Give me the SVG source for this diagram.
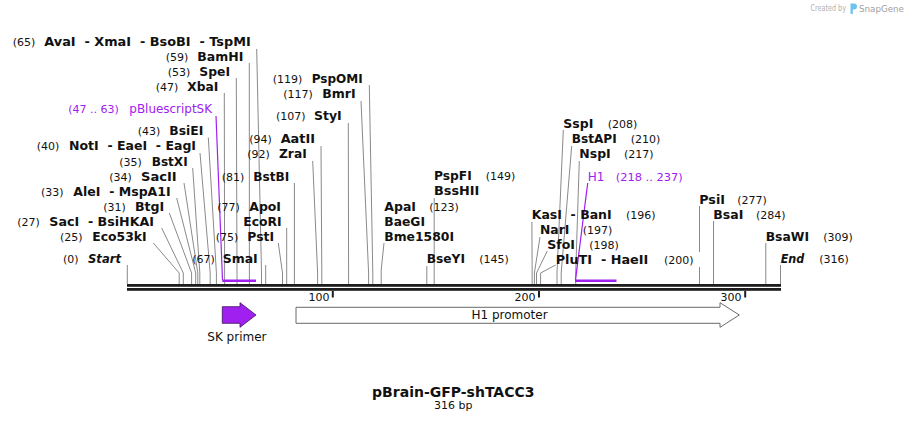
<svg xmlns="http://www.w3.org/2000/svg" width="908" height="423" viewBox="0 0 908 423">
<style>
text{font-family:"DejaVu Sans",Verdana,sans-serif;fill:#111}
.nm{font-size:12.4px;font-weight:bold}
.it{font-size:12.4px;font-weight:bold;font-style:italic}
.num{font-size:11px}
.pu{fill:#a020f0}
.sm{font-size:12px}
.ln{fill:none;stroke:#8a8a8a;stroke-width:1}
.pln{fill:none;stroke:#a020f0;stroke-width:1.2}
.bar{stroke:#a020f0;stroke-width:2.6}
.tk{font-size:11px}
</style>
<rect width="908" height="423" fill="#fff"/>

<g id="watermark">
<text x="810.5" y="11" style="font-size:8px;fill:#b0b0b0" textLength="35.5" lengthAdjust="spacingAndGlyphs">Created by</text>
<path d="M850.5 3.5 h3.5 a3 3 0 0 1 0 6 h-1.2 v4.5 h-2.3 z" fill="#6cc4ee"/>
<text x="859" y="12" style="font-size:9.5px;fill:#a0a0a0" textLength="45" lengthAdjust="spacingAndGlyphs">SnapGene</text>
</g>

<g id="connectors">
<polyline class="ln" points="256.7,49 261.5,273 261.5,284"/>
<polyline class="ln" points="249.3,63 249.4,284"/>
<polyline class="ln" points="236.3,78 237,273 237,284"/>
<polyline class="ln" points="224.3,93 224.6,273 224.6,284"/>
<polyline class="ln" points="208.3,137.5 216.4,273 216.4,284"/>
<polyline class="ln" points="200,153 210.2,273 210.2,284"/>
<polyline class="ln" points="192.7,168 199.8,273 199.8,284"/>
<polyline class="ln" points="184,183 197.8,273 197.8,284"/>
<polyline class="ln" points="176.7,198 195.7,273 195.7,284"/>
<polyline class="ln" points="169.3,213 191.6,273 191.6,284"/>
<polyline class="ln" points="161.7,228 183.3,273 183.3,284"/>
<polyline class="ln" points="153.3,243 179.2,273 179.2,284"/>
<polyline class="ln" points="127.3,265 127.3,284"/>
<polyline class="ln" points="294.4,183 294.4,284"/>
<polyline class="ln" points="286.7,228 286.7,284"/>
<polyline class="ln" points="278.3,243 282.5,273 282.5,284"/>
<polyline class="ln" points="265.7,265 265.7,284"/>
<polyline class="ln" points="321,146 321.8,273 321.8,284"/>
<polyline class="ln" points="312.7,161 317.6,273 317.6,284"/>
<polyline class="ln" points="348.3,123 348.6,284"/>
<polyline class="ln" points="361,101 368.6,273 368.6,284"/>
<polyline class="ln" points="369.3,85 372.8,273 372.8,284"/>
<polyline class="ln" points="384,243 381.2,270 381.2,284"/>
<polyline class="ln" points="434.2,198 434.2,284"/>
<polyline class="ln" points="426.8,266 426.8,284"/>
<polyline class="ln" points="563.3,130 557,273 557,284"/>
<polyline class="ln" points="571.7,146 561.2,273 561.2,284"/>
<polyline class="ln" points="579.3,161 575.7,273 575.7,284"/>
<polyline class="ln" points="531.9,222 532.2,284"/>
<polyline class="ln" points="540,237 534.4,273 534.4,284"/>
<polyline class="ln" points="547.3,251 536.5,273 536.5,284"/>
<polyline class="ln" points="555.7,265 540.6,273 540.6,284"/>
<polyline class="ln" points="699.5,206 699.5,284"/>
<polyline class="ln" points="713.5,221 713.5,284"/>
<polyline class="ln" points="765.8,243 765.8,284"/>
<polyline class="ln" points="780.5,265 780.5,284"/>
<polyline class="pln" points="216,116 222.5,280"/>
<polyline class="pln" points="587.7,183 575.5,280"/>
<line class="bar" x1="222.3" y1="280.7" x2="256" y2="280.7"/>
<line class="bar" x1="575" y1="280.7" x2="616.5" y2="280.7"/>
</g>

<g id="backbone">
<rect x="127" y="284" width="654" height="2.8" fill="#1e1e1e"/>
<rect x="127" y="288" width="654" height="2.8" fill="#1e1e1e"/>
<rect x="331.8" y="291" width="2" height="6.5" fill="#1e1e1e"/>
<rect x="538" y="291" width="2" height="6.5" fill="#1e1e1e"/>
<rect x="744.2" y="291" width="2" height="6.5" fill="#1e1e1e"/>
<text class="tk" x="329.5" y="301" text-anchor="end">100</text>
<text class="tk" x="535.5" y="301" text-anchor="end">200</text>
<text class="tk" x="741.5" y="301" text-anchor="end">300</text>
</g>

<g id="site-AvaI"><text class="num" x="12.7" y="46">(65)</text><text class="nm" x="44.3" y="46" textLength="206.4" lengthAdjust="spacingAndGlyphs" xml:space="preserve">AvaI  - XmaI  - BsoBI  - TspMI</text></g>
<g id="site-BamHI"><text class="num" x="165.7" y="60.7">(59)</text><text class="nm" x="197.3" y="60.7" textLength="46" lengthAdjust="spacingAndGlyphs">BamHI</text></g>
<g id="site-SpeI"><text class="num" x="167.7" y="75.7">(53)</text><text class="nm" x="199.3" y="75.7" textLength="30.7" lengthAdjust="spacingAndGlyphs">SpeI</text></g>
<g id="site-XbaI"><text class="num" x="155.7" y="90.7">(47)</text><text class="nm" x="187.3" y="90.7" textLength="31" lengthAdjust="spacingAndGlyphs">XbaI</text></g>
<g id="feat-pBluescriptSK"><text class="num pu" x="68.3" y="113.3">(47 .. 63)</text><text class="sm pu" x="129.3" y="113.3" textLength="82.7" lengthAdjust="spacingAndGlyphs">pBluescriptSK</text></g>
<g id="site-BsiEI"><text class="num" x="137.7" y="135">(43)</text><text class="nm" x="169.3" y="135" textLength="34" lengthAdjust="spacingAndGlyphs">BsiEI</text></g>
<g id="site-NotI"><text class="num" x="36.7" y="150">(40)</text><text class="nm" x="69" y="150" textLength="127" lengthAdjust="spacingAndGlyphs" xml:space="preserve">NotI  - EaeI  - EagI</text></g>
<g id="site-BstXI"><text class="num" x="119.3" y="165.7">(35)</text><text class="nm" x="151.7" y="165.7" textLength="36" lengthAdjust="spacingAndGlyphs">BstXI</text></g>
<g id="site-SacII"><text class="num" x="109.3" y="180.7">(34)</text><text class="nm" x="141" y="180.7" textLength="35.7" lengthAdjust="spacingAndGlyphs">SacII</text></g>
<g id="site-AleI"><text class="num" x="41" y="195.7">(33)</text><text class="nm" x="73.3" y="195.7" textLength="97.4" lengthAdjust="spacingAndGlyphs" xml:space="preserve">AleI  - MspA1I</text></g>
<g id="site-BtgI"><text class="num" x="103.3" y="210.7">(31)</text><text class="nm" x="135" y="210.7" textLength="29.3" lengthAdjust="spacingAndGlyphs">BtgI</text></g>
<g id="site-SacI"><text class="num" x="17.3" y="225.7">(27)</text><text class="nm" x="49.3" y="225.7" textLength="104.7" lengthAdjust="spacingAndGlyphs" xml:space="preserve">SacI  - BsiHKAI</text></g>
<g id="site-Eco53kI"><text class="num" x="60" y="240.7">(25)</text><text class="nm" x="92.3" y="240.7" textLength="54.4" lengthAdjust="spacingAndGlyphs">Eco53kI</text></g>
<g id="site-Start"><text class="num" x="63" y="263.3">(0)</text><text class="it" x="88" y="263.3" textLength="33" lengthAdjust="spacingAndGlyphs">Start</text></g>

<g id="site-BstBI"><text class="num" x="221.7" y="180.7">(81)</text><text class="nm" x="253.3" y="180.7" textLength="36" lengthAdjust="spacingAndGlyphs">BstBI</text></g>
<g id="site-ApoI"><text class="num" x="217.3" y="210.7">(77)</text><text class="nm" x="249.3" y="210.7" textLength="31.7" lengthAdjust="spacingAndGlyphs">ApoI</text></g>
<g id="site-EcoRI"><text class="nm" x="243.3" y="225.7" textLength="38.4" lengthAdjust="spacingAndGlyphs">EcoRI</text></g>
<g id="site-PstI"><text class="num" x="215.7" y="240.7">(75)</text><text class="nm" x="247.3" y="240.7" textLength="26.7" lengthAdjust="spacingAndGlyphs">PstI</text></g>
<g id="site-SmaI"><text class="num" x="192.3" y="263.3">(67)</text><text class="nm" x="222.7" y="263.3" textLength="35" lengthAdjust="spacingAndGlyphs">SmaI</text></g>
<g id="site-AatII"><text class="num" x="249.3" y="143.3">(94)</text><text class="nm" x="280.7" y="143.3" textLength="34.3" lengthAdjust="spacingAndGlyphs">AatII</text></g>
<g id="site-ZraI"><text class="num" x="247.3" y="158.3">(92)</text><text class="nm" x="279" y="158.3" textLength="27.7" lengthAdjust="spacingAndGlyphs">ZraI</text></g>
<g id="site-StyI"><text class="num" x="276" y="120">(107)</text><text class="nm" x="314" y="120" textLength="27.7" lengthAdjust="spacingAndGlyphs">StyI</text></g>
<g id="site-BmrI"><text class="num" x="283.3" y="98.3">(117)</text><text class="nm" x="322.3" y="98.3" textLength="33.4" lengthAdjust="spacingAndGlyphs">BmrI</text></g>
<g id="site-PspOMI"><text class="num" x="272.7" y="83.3">(119)</text><text class="nm" x="311.7" y="83.3" textLength="51" lengthAdjust="spacingAndGlyphs">PspOMI</text></g>

<g id="site-ApaI"><text class="nm" x="384.3" y="210.7" textLength="31.7" lengthAdjust="spacingAndGlyphs">ApaI</text><text class="num" x="429.3" y="210.7">(123)</text><text class="nm" x="384.3" y="225.7" textLength="40.7" lengthAdjust="spacingAndGlyphs">BaeGI</text><text class="nm" x="384.3" y="240.7" textLength="69.7" lengthAdjust="spacingAndGlyphs">Bme1580I</text></g>
<g id="site-PspFI"><text class="nm" x="434" y="180" textLength="37.7" lengthAdjust="spacingAndGlyphs">PspFI</text><text class="num" x="485.7" y="180">(149)</text><text class="nm" x="434" y="195" textLength="45.3" lengthAdjust="spacingAndGlyphs">BssHII</text></g>
<g id="site-BseYI"><text class="nm" x="426.7" y="263.3" textLength="38.3" lengthAdjust="spacingAndGlyphs">BseYI</text><text class="num" x="479.3" y="263.3">(145)</text></g>
<g id="site-SspI"><text class="nm" x="563.3" y="128.3" textLength="30" lengthAdjust="spacingAndGlyphs">SspI</text><text class="num" x="607.7" y="128.3">(208)</text></g>
<g id="site-BstAPI"><text class="nm" x="571.7" y="143.3" textLength="45" lengthAdjust="spacingAndGlyphs">BstAPI</text><text class="num" x="630.7" y="143.3">(210)</text></g>
<g id="site-NspI"><text class="nm" x="579.3" y="158.3" textLength="31.4" lengthAdjust="spacingAndGlyphs">NspI</text><text class="num" x="624" y="158.3">(217)</text></g>
<g id="feat-H1"><text class="sm pu" x="587.7" y="181">H1</text><text class="num pu" x="615.7" y="181" textLength="67" lengthAdjust="spacingAndGlyphs">(218 .. 237)</text></g>
<g id="site-KasI"><text class="nm" x="531.7" y="219" textLength="80" lengthAdjust="spacingAndGlyphs" xml:space="preserve">KasI  - BanI</text><text class="num" x="626" y="219">(196)</text></g>
<g id="site-NarI"><text class="nm" x="540" y="234" textLength="29.3" lengthAdjust="spacingAndGlyphs">NarI</text><text class="num" x="582.7" y="234">(197)</text></g>
<g id="site-SfoI"><text class="nm" x="547.3" y="249" textLength="27.7" lengthAdjust="spacingAndGlyphs">SfoI</text><text class="num" x="589.3" y="249">(198)</text></g>
<g id="site-PluTI"><rect x="660" y="252" width="43" height="15" fill="#fff"/><text class="nm" x="555.7" y="264" textLength="92.6" lengthAdjust="spacingAndGlyphs" xml:space="preserve">PluTI  - HaeII</text><text class="num" x="664" y="264">(200)</text></g>
<g id="site-PsiI"><text class="nm" x="699.3" y="204" textLength="25.7" lengthAdjust="spacingAndGlyphs">PsiI</text><text class="num" x="737.3" y="204">(277)</text></g>
<g id="site-BsaI"><text class="nm" x="713.3" y="219" textLength="30" lengthAdjust="spacingAndGlyphs">BsaI</text><text class="num" x="756" y="219">(284)</text></g>
<g id="site-BsaWI"><text class="nm" x="765.7" y="241" textLength="43.3" lengthAdjust="spacingAndGlyphs">BsaWI</text><text class="num" x="823.3" y="241">(309)</text></g>
<g id="site-End"><text class="it" x="780.7" y="263.3" textLength="23.6" lengthAdjust="spacingAndGlyphs">End</text><text class="num" x="819.3" y="263.3">(316)</text></g>

<g id="feat-SKprimer">
<path d="M222.3 306.7 H240 V302.7 L256 315 L240 327.3 V323.3 H222.3 Z" fill="#a020f0" stroke="#3c0f5c" stroke-width="0.8"/>
<text class="sm" x="207.3" y="341">SK primer</text>
</g>
<g id="feat-H1promoter">
<path d="M296 307.3 H720 V302.7 L739.3 315 L720 327.3 V323.3 H296 Z" fill="#fff" stroke="#6a6a6a" stroke-width="1"/>
<text class="sm" x="509.5" y="319" text-anchor="middle">H1 promoter</text>
</g>

<g id="title">
<text x="453.3" y="396.7" text-anchor="middle" style="font-size:14px;font-weight:bold">pBrain-GFP-shTACC3</text>
<text x="453.3" y="409.3" text-anchor="middle" style="font-size:11px">316 bp</text>
</g>
</svg>
